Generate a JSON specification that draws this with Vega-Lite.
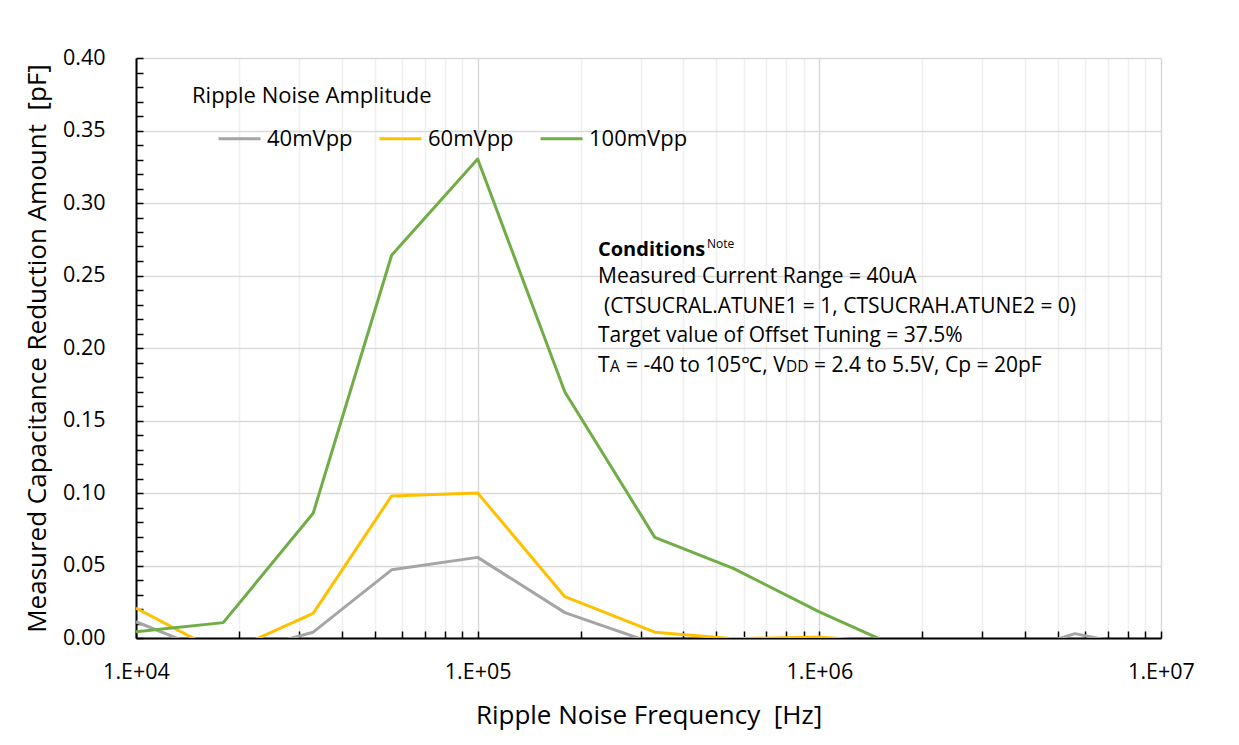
{
  "$schema": "https://vega.github.io/schema/vega-lite/v6.json",
  "width": 1025,
  "height": 580,
  "autosize": {"type": "none"},
  "padding": {"left": 136, "top": 58, "right": 78, "bottom": 107},
  "background": "white",
  "config": {
    "view": {"stroke": null},
    "font": "Open Sans",
    "text": {"font": "Open Sans", "color": "black"}
  },
  "layer": [
    {
      "data": {
        "values": [
          {"f": 10000, "series": "40mVpp", "v": 0.0112},
          {"f": 18000, "series": "40mVpp", "v": -0.013},
          {"f": 33000, "series": "40mVpp", "v": 0.004},
          {"f": 56000, "series": "40mVpp", "v": 0.047},
          {"f": 100000, "series": "40mVpp", "v": 0.0556},
          {"f": 180000, "series": "40mVpp", "v": 0.0175},
          {"f": 330000, "series": "40mVpp", "v": -0.004},
          {"f": 560000, "series": "40mVpp", "v": -0.01},
          {"f": 1000000, "series": "40mVpp", "v": -0.008},
          {"f": 1800000, "series": "40mVpp", "v": -0.012},
          {"f": 3300000, "series": "40mVpp", "v": -0.014},
          {"f": 5600000, "series": "40mVpp", "v": 0.003},
          {"f": 10000000, "series": "40mVpp", "v": -0.009},
          {"f": 10000, "series": "60mVpp", "v": 0.0207},
          {"f": 18000, "series": "60mVpp", "v": -0.011},
          {"f": 33000, "series": "60mVpp", "v": 0.017},
          {"f": 56000, "series": "60mVpp", "v": 0.098},
          {"f": 100000, "series": "60mVpp", "v": 0.1},
          {"f": 180000, "series": "60mVpp", "v": 0.0285},
          {"f": 330000, "series": "60mVpp", "v": 0.004},
          {"f": 560000, "series": "60mVpp", "v": -0.0005},
          {"f": 1000000, "series": "60mVpp", "v": 0.0007},
          {"f": 1800000, "series": "60mVpp", "v": -0.004},
          {"f": 3300000, "series": "60mVpp", "v": -0.01},
          {"f": 5600000, "series": "60mVpp", "v": -0.01},
          {"f": 10000000, "series": "60mVpp", "v": -0.01},
          {"f": 10000, "series": "100mVpp", "v": 0.0043},
          {"f": 18000, "series": "100mVpp", "v": 0.0106},
          {"f": 33000, "series": "100mVpp", "v": 0.086},
          {"f": 56000, "series": "100mVpp", "v": 0.264},
          {"f": 100000, "series": "100mVpp", "v": 0.3303},
          {"f": 180000, "series": "100mVpp", "v": 0.1697},
          {"f": 330000, "series": "100mVpp", "v": 0.0694},
          {"f": 560000, "series": "100mVpp", "v": 0.048},
          {"f": 1000000, "series": "100mVpp", "v": 0.018},
          {"f": 1800000, "series": "100mVpp", "v": -0.009},
          {"f": 3300000, "series": "100mVpp", "v": -0.01},
          {"f": 5600000, "series": "100mVpp", "v": -0.01},
          {"f": 10000000, "series": "100mVpp", "v": -0.01}
        ]
      },
      "mark": {"type": "line", "clip": true, "strokeWidth": 3, "strokeJoin": "round"},
      "encoding": {
        "x": {
          "field": "f",
          "type": "quantitative",
          "scale": {"type": "log", "domain": [10000, 10000000]},
          "axis": {
            "values": [10000, 20000, 30000, 40000, 50000, 60000, 70000, 80000, 90000, 100000, 200000, 300000, 400000, 500000, 600000, 700000, 800000, 900000, 1000000, 2000000, 3000000, 4000000, 5000000, 6000000, 7000000, 8000000, 9000000, 10000000],
            "tickCount": 200,
            "labelExpr": "abs(log(datum.value)/LN10 - round(log(datum.value)/LN10)) < 0.001 ? '1.E+0' + round(log(datum.value)/LN10) : ''",
            "labelOverlap": false,
            "labelFlush": false,
            "labelFont": "Open Sans",
            "labelFontSize": 21.5,
            "labelColor": "black",
            "labelPadding": 30,
            "title": "Ripple Noise Frequency\u00a0 [Hz]",
            "titleFont": "Open Sans",
            "titleFontSize": 26,
            "titleFontWeight": "normal",
            "titleColor": "black",
            "titlePadding": 20,
            "domainColor": "black",
            "domainWidth": 2,
            "tickColor": "black",
            "tickWidth": 1.5,
            "tickSize": -7,
            "grid": true,
            "gridColor": {"condition": {"test": "abs(log(datum.value)/LN10 - round(log(datum.value)/LN10)) < 0.001", "value": "#d9d9d9"}, "value": "#efefef"},
            "gridWidth": 1.5
          }
        },
        "y": {
          "field": "v",
          "type": "quantitative",
          "scale": {"domain": [0, 0.4], "nice": false, "zero": false},
          "axis": {
            "values": [0, 0.01, 0.02, 0.03, 0.04, 0.05, 0.06, 0.07, 0.08, 0.09, 0.1, 0.11, 0.12, 0.13, 0.14, 0.15, 0.16, 0.17, 0.18, 0.19, 0.2, 0.21, 0.22, 0.23, 0.24, 0.25, 0.26, 0.27, 0.28, 0.29, 0.3, 0.31, 0.32, 0.33, 0.34, 0.35, 0.36, 0.37, 0.38, 0.39, 0.4],
            "tickCount": 200,
            "labelExpr": "round(datum.value*100) % 5 == 0 ? format(datum.value, '.2f') : ''",
            "labelOverlap": false,
            "labelFlush": false,
            "labelFont": "Open Sans",
            "labelFontSize": 21.5,
            "labelColor": "black",
            "labelPadding": 38,
            "title": "Measured Capacitance Reduction Amount\u00a0 [pF]",
            "titleFont": "Open Sans",
            "titleFontSize": 26,
            "titleFontWeight": "normal",
            "titleColor": "black",
            "titlePadding": 12,
            "domainColor": "black",
            "domainWidth": 2,
            "tickColor": "black",
            "tickWidth": 1.5,
            "tickSize": -7,
            "grid": true,
            "gridColor": "#d9d9d9",
            "gridWidth": 1.5,
            "gridOpacity": {"condition": {"test": "round(datum.value*100) % 5 != 0", "value": 0}, "value": 1}
          }
        },
        "color": {
          "field": "series",
          "type": "nominal",
          "scale": {"domain": ["40mVpp", "60mVpp", "100mVpp"], "range": ["#a5a5a5", "#ffc000", "#70ad47"]},
          "legend": {
            "orient": "none",
            "legendX": 56,
            "legendY": 28,
            "direction": "horizontal",
            "title": "Ripple Noise Amplitude",
            "titleFont": "Open Sans",
            "titleFontSize": 22,
            "titleFontWeight": "normal",
            "titleColor": "black",
            "titlePadding": 8,
            "titleAnchor": "start",
            "titleLimit": 600,
            "labelFont": "Open Sans",
            "labelFontSize": 22,
            "labelColor": "black",
            "labelOffset": 5,
            "labelLimit": 300,
            "symbolType": "stroke",
            "symbolSize": 1764,
            "symbolStrokeWidth": 3,
            "symbolOffset": 25,
            "columnPadding": -6
          }
        }
      }
    },
    {
      "data": {
        "values": [
          {"f": 225000, "v": 0.2448, "t": "Measured Current Range = 40uA"},
          {"f": 234300, "v": 0.2241, "t": "(CTSUCRAL.ATUNE1 = 1, CTSUCRAH.ATUNE2 = 0)"},
          {"f": 225000, "v": 0.2041, "t": "Target value of Offset Tuning = 37.5%"},
          {"f": 225000, "v": 0.1834, "t": "T"},
          {"f": 271700, "v": 0.1834, "t": "= -40 to 105℃, V"},
          {"f": 964700, "v": 0.1834, "t": "= 2.4 to 5.5V, Cp = 20pF"}
        ]
      },
      "mark": {"type": "text", "align": "left", "baseline": "alphabetic", "fontSize": 21, "font": "Open Sans", "color": "black"},
      "encoding": {
        "x": {"field": "f", "type": "quantitative"},
        "y": {"field": "v", "type": "quantitative"},
        "text": {"field": "t"}
      }
    },
    {
      "data": {
        "values": [
          {"f": 244000, "v": 0.1834, "t": "A"},
          {"f": 798800, "v": 0.1834, "t": "DD"}
        ]
      },
      "mark": {"type": "text", "align": "left", "baseline": "alphabetic", "fontSize": 15.5, "font": "Open Sans", "color": "black"},
      "encoding": {
        "x": {"field": "f", "type": "quantitative"},
        "y": {"field": "v", "type": "quantitative"},
        "text": {"field": "t"}
      }
    },
    {
      "data": {"values": [{"f": 225000, "v": 0.2634, "t": "Conditions"}]},
      "mark": {"type": "text", "align": "left", "baseline": "alphabetic", "fontSize": 20, "fontWeight": "bold", "font": "Open Sans", "color": "black"},
      "encoding": {
        "x": {"field": "f", "type": "quantitative"},
        "y": {"field": "v", "type": "quantitative"},
        "text": {"field": "t"}
      }
    },
    {
      "data": {"values": [{"f": 469100, "v": 0.269, "t": "Note"}]},
      "mark": {"type": "text", "align": "left", "baseline": "alphabetic", "fontSize": 12, "font": "Open Sans", "color": "black"},
      "encoding": {
        "x": {"field": "f", "type": "quantitative"},
        "y": {"field": "v", "type": "quantitative"},
        "text": {"field": "t"}
      }
    }
  ]
}
